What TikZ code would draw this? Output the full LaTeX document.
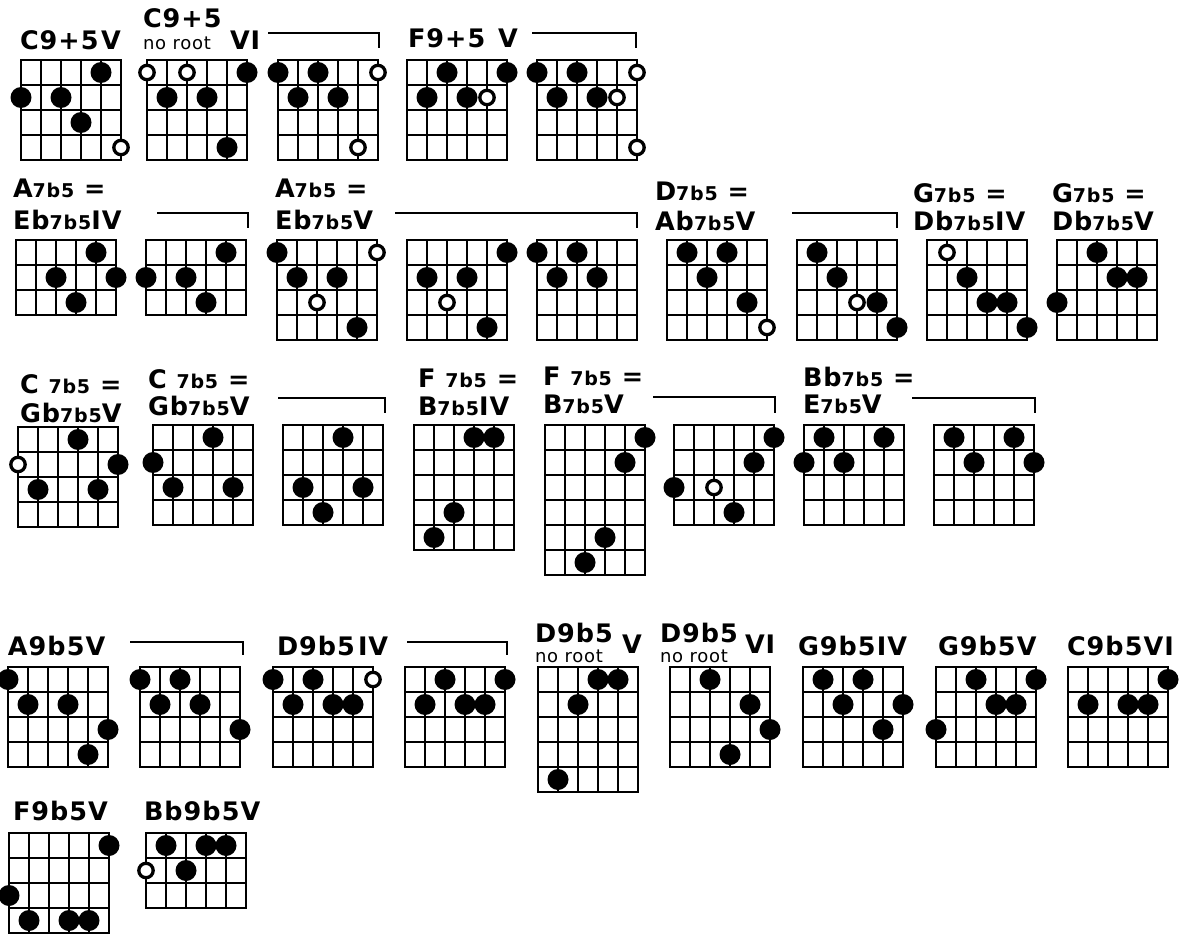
\documentclass[tikz,border=0pt]{standalone}
\usepackage{fontspec}
\setmainfont{DejaVu Sans}
\newfontfamily\tfont[LetterSpace=4]{DejaVu Sans}
\newcommand\BG{\fontsize{25.5}{26}\selectfont\bfseries}
\newcommand\SM{\fontsize{19}{19}\selectfont\bfseries}
\newcommand\NR{\fontsize{18}{18}\selectfont\mdseries}
\tikzset{
  gl/.style={line width=2.8pt},
  brk/.style={line width=2.2pt},
  ttl/.style={anchor=base west, inner sep=0pt, outer sep=0pt, font=\tfont\BG},
}
\newcommand\cg[3]{%
  \draw[gl] (#1,#2) rectangle (#1+100,#2+#3*25);
  \foreach \i in {1,2,3,4} \draw[gl] (#1+\i*20,#2) -- (#1+\i*20,#2+#3*25);
  \foreach \j in {1,...,#3} \draw[gl] (#1,#2+\j*25) -- (#1+100,#2+\j*25);
}
\newcommand\fd[3]{\foreach \s/\f in {#3} \fill (#1+\s*20,#2+\f*25-12.5) circle[radius=10.5pt];}
\newcommand\od[3]{\foreach \s/\f in {#3} \filldraw[fill=white,line width=3.3pt] (#1+\s*20,#2+\f*25-12.5) circle[radius=7.2pt];}
\begin{document}
\begin{tikzpicture}[x=1pt,y=-1pt]
\fill[white] (0,0) rectangle (1187,936);
\useasboundingbox (0,0) rectangle (1187,936);
% ---------- Row 1
\node[ttl] (t1) at (20,50) {C9+5};
\node[ttl] (t1v) at (101,50) {V};
\node[ttl] (t2) at (143,28) {C9+5};
\node[ttl] (t2n) at (143,50) {\NR no root};
\node[ttl] (t2v) at (230,50) {VI};
\draw[brk] (268,33) -- (379,33) -- (379,48);
\node[ttl] (t3) at (408,48) {F9+5};
\node[ttl] (t3v) at (498,48) {V};
\draw[brk] (532,33) -- (636,33) -- (636,48);
\cg{21}{60}{4} \fd{21}{60}{4/1,0/2,2/2,3/3} \od{21}{60}{5/4}
\cg{147}{60}{4} \fd{147}{60}{5/1,1/2,3/2,4/4} \od{147}{60}{0/1,2/1}
\cg{278}{60}{4} \fd{278}{60}{0/1,2/1,1/2,3/2} \od{278}{60}{5/1,4/4}
\cg{407}{60}{4} \fd{407}{60}{2/1,5/1,1/2,3/2} \od{407}{60}{4/2}
\cg{537}{60}{4} \fd{537}{60}{0/1,2/1,1/2,3/2} \od{537}{60}{5/1,4/2,5/4}
% ---------- Row 2
\node[ttl] (u1) at (13,198) {A{\SM 7b5} =};
\node[ttl] (u1b) at (13,230) {Eb{\SM 7b5}IV};
\draw[brk] (157,213) -- (248,213) -- (248,228);
\node[ttl] (u2) at (275,198) {A{\SM 7b5} =};
\node[ttl] (u2b) at (275,230) {Eb{\SM 7b5}V};
\draw[brk] (395,213) -- (637,213) -- (637,228);
\node[ttl] (u3) at (655,201) {D{\SM 7b5} =};
\node[ttl] (u3b) at (655,231) {Ab{\SM 7b5}V};
\draw[brk] (792,213) -- (897,213) -- (897,228);
\node[ttl] (u4) at (913,203) {G{\SM 7b5} =};
\node[ttl] (u4b) at (913,231) {Db{\SM 7b5}IV};
\node[ttl] (u5) at (1052,203) {G{\SM 7b5} =};
\node[ttl] (u5b) at (1052,231) {Db{\SM 7b5}V};
\cg{16}{240}{3} \fd{16}{240}{4/1,2/2,5/2,3/3}
\cg{146}{240}{3} \fd{146}{240}{4/1,0/2,2/2,3/3}
\cg{277}{240}{4} \fd{277}{240}{0/1,1/2,3/2,4/4} \od{277}{240}{5/1,2/3}
\cg{407}{240}{4} \fd{407}{240}{5/1,1/2,3/2,4/4} \od{407}{240}{2/3}
\cg{537}{240}{4} \fd{537}{240}{0/1,2/1,1/2,3/2}
\cg{667}{240}{4} \fd{667}{240}{1/1,3/1,2/2,4/3} \od{667}{240}{5/4}
\cg{797}{240}{4} \od{797}{240}{3/3} \fd{797}{240}{1/1,2/2,4/3,5/4}
\cg{927}{240}{4} \fd{927}{240}{2/2,3/3,4/3,5/4} \od{927}{240}{1/1}
\cg{1057}{240}{4} \fd{1057}{240}{2/1,3/2,4/2,0/3}
% ---------- Row 3
\node[ttl] (v1) at (20,393) {C {\SM 7b5} =};
\node[ttl] (v1b) at (20,422) {Gb{\SM 7b5}V};
\node[ttl] (v2) at (148,388) {C {\SM 7b5} =};
\node[ttl] (v2b) at (148,415) {Gb{\SM 7b5}V};
\draw[brk] (278,398) -- (385,398) -- (385,413);
\node[ttl] (v3) at (418,387) {F {\SM 7b5} =};
\node[ttl] (v3b) at (418,415) {B{\SM 7b5}IV};
\node[ttl] (v4) at (543,385) {F {\SM 7b5} =};
\node[ttl] (v4b) at (543,413) {B{\SM 7b5}V};
\draw[brk] (653,397) -- (775,397) -- (775,413);
\node[ttl] (v5) at (803,386) {Bb{\SM 7b5} =};
\node[ttl] (v5b) at (803,413) {E{\SM 7b5}V};
\draw[brk] (912,398) -- (1035,398) -- (1035,413);
\cg{18}{427}{4} \fd{18}{427}{3/1,5/2,1/3,4/3} \od{18}{427}{0/2}
\cg{153}{425}{4} \fd{153}{425}{3/1,0/2,1/3,4/3}
\cg{283}{425}{4} \fd{283}{425}{3/1,1/3,4/3,2/4}
\cg{414}{425}{5} \fd{414}{425}{3/1,4/1,2/4,1/5}
\cg{545}{425}{6} \fd{545}{425}{5/1,4/2,3/5,2/6}
\cg{674}{425}{4} \fd{674}{425}{5/1,4/2,0/3,3/4} \od{674}{425}{2/3}
\cg{804}{425}{4} \fd{804}{425}{1/1,4/1,0/2,2/2}
\cg{934}{425}{4} \fd{934}{425}{1/1,4/1,2/2,5/2}
% ---------- Row 4
\node[ttl] (w1) at (8,655) {A9b5V};
\draw[brk] (130,642) -- (243,642) -- (243,655);
\node[ttl] (w2) at (277,655) {D9b5};
\node[ttl] (w2v) at (358,655) {IV};
\draw[brk] (407,642) -- (507,642) -- (507,655);
\node[ttl] (w3) at (535,642) {D9b5};
\node[ttl] (w3n) at (535,662) {\NR no root};
\node[ttl] (w3v) at (622,653) {V};
\node[ttl] (w4) at (660,642) {D9b5};
\node[ttl] (w4n) at (660,662) {\NR no root};
\node[ttl] (w4v) at (745,653) {VI};
\node[ttl] (w5) at (798,655) {G9b5IV};
\node[ttl] (w6) at (938,655) {G9b5V};
\node[ttl] (w7) at (1067,655) {C9b5VI};
\cg{8}{667}{4} \fd{8}{667}{0/1,1/2,3/2,5/3,4/4}
\cg{140}{667}{4} \fd{140}{667}{0/1,2/1,1/2,3/2,5/3}
\cg{273}{667}{4} \fd{273}{667}{0/1,2/1,1/2,3/2,4/2} \od{273}{667}{5/1}
\cg{405}{667}{4} \fd{405}{667}{2/1,5/1,1/2,3/2,4/2}
\cg{538}{667}{5} \fd{538}{667}{3/1,4/1,2/2,1/5}
\cg{670}{667}{4} \fd{670}{667}{2/1,4/2,5/3,3/4}
\cg{803}{667}{4} \fd{803}{667}{1/1,3/1,2/2,5/2,4/3}
\cg{936}{667}{4} \fd{936}{667}{2/1,5/1,3/2,4/2,0/3}
\cg{1068}{667}{4} \fd{1068}{667}{5/1,1/2,3/2,4/2}
% ---------- Row 5
\node[ttl] (x1) at (13,820) {F9b5V};
\node[ttl] (x2) at (144,820) {Bb9b5V};
\cg{9}{833}{4} \fd{9}{833}{5/1,0/3,1/4,3/4,4/4}
\cg{146}{833}{3} \fd{146}{833}{1/1,3/1,4/1,2/2} \od{146}{833}{0/2}
\end{tikzpicture}
\end{document}
